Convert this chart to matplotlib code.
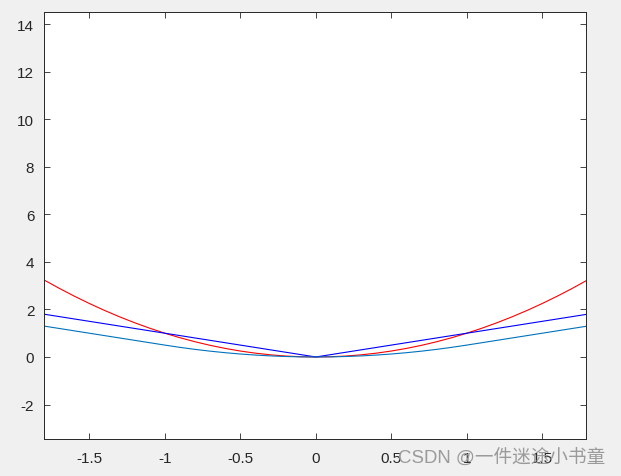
import numpy as np
import matplotlib.pyplot as plt

x = [-1.8, -1.7, -1.6, -1.5, -1.4, -1.3, -1.2, -1.1, -1.0, -0.9, -0.8, -0.7, -0.6,
     -0.5, -0.4, -0.3, -0.2, -0.1, 0.0, 0.1, 0.2, 0.3, 0.4, 0.5, 0.6, 0.7, 0.8,
     0.9, 1.0, 1.1, 1.2, 1.3, 1.4, 1.5, 1.6, 1.7, 1.8]
red_vals = [3.24, 2.89, 2.56, 2.25, 1.96, 1.69, 1.44, 1.21, 1.0, 0.81, 0.64, 0.49, 0.36,
            0.25, 0.16, 0.09, 0.04, 0.01, 0.0, 0.01, 0.04, 0.09, 0.16, 0.25, 0.36, 0.49, 0.64,
            0.81, 1.0, 1.21, 1.44, 1.69, 1.96, 2.25, 2.56, 2.89, 3.24]
blue_vals = [1.8, 1.7, 1.6, 1.5, 1.4, 1.3, 1.2, 1.1, 1.0, 0.9, 0.8, 0.7, 0.6,
             0.5, 0.4, 0.3, 0.2, 0.1, 0.0, 0.1, 0.2, 0.3, 0.4, 0.5, 0.6, 0.7, 0.8,
             0.9, 1.0, 1.1, 1.2, 1.3, 1.4, 1.5, 1.6, 1.7, 1.8]
cyan_vals = [1.3, 1.2, 1.1, 1.0, 0.9, 0.8, 0.7, 0.6, 0.5, 0.405, 0.32, 0.245, 0.18,
             0.125, 0.08, 0.045, 0.02, 0.005, 0.0, 0.005, 0.02, 0.045, 0.08, 0.125, 0.18, 0.245, 0.32,
             0.405, 0.5, 0.6, 0.7, 0.8, 0.9, 1.0, 1.1, 1.2, 1.3]

xticks = [-1.5, -1, -0.5, 0, 0.5, 1, 1.5]
xtick_labels = ["-1.5", "-1", "-0.5", "0", "0.5", "1", "1.5"]
yticks = [-2, 0, 2, 4, 6, 8, 10, 12, 14]

plt.rcParams['font.family'] = ['Liberation Sans', 'DejaVu Sans']
plt.rcParams['axes.unicode_minus'] = False

fig = plt.figure(figsize=(6.21, 4.77), dpi=100, facecolor='#f0f0f0')
ax = fig.add_axes([0.0709, 0.0776, 0.8728, 0.8945])
ax.set_facecolor('white')

ax.plot(x, red_vals, color='red', lw=0.8)
ax.plot(x, blue_vals, color='blue', lw=0.8)
ax.plot(x, cyan_vals, color=(0, 0.447, 0.741), lw=0.8)

ax.set_xlim(-1.8, 1.79)
ax.set_ylim(-3.45, 14.5)
ax.set_xticks(xticks)
ax.set_xticklabels(xtick_labels)
ax.set_yticks(yticks)
ax.tick_params(direction='in', length=4, width=0.6, top=True, right=True,
               labelsize=11, colors='#262626')
ax.tick_params(axis='x', pad=9)
ax.tick_params(axis='y', pad=7)
for s in ax.spines.values():
    s.set_linewidth(0.7)
    s.set_color('#262626')

fig.text(398 / 621, (477 - 458) / 477, "CSDN @一件迷途小书童", color='#9a9a9a',
         fontsize=13.4, va='center', ha='left',
         family=['Liberation Sans', 'Noto Sans CJK SC'])

fig.savefig('out.png', dpi=100, facecolor=fig.get_facecolor())
